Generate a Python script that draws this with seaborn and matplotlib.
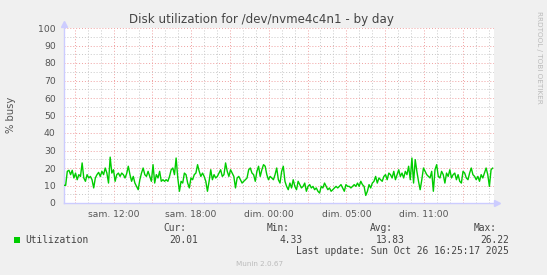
import numpy as np
import pandas as pd
import matplotlib
matplotlib.use("Agg")
import matplotlib.pyplot as plt
import seaborn as sns

# ---- data ----
utilization = [
    10.1, 10.1, 18.1, 18.7, 16.2, 18.7, 14.3, 17.1, 13.3, 16.2, 15.2, 22.9, 14.3, 12.4, 16.2, 14.3,
    15.2, 13.3, 8.6, 14.3, 16.2, 17.5, 15.2, 18.1, 16.2, 20.0, 17.1, 11.4, 26.22, 17.1, 19.0, 12.4,
    16.2, 17.1, 15.2, 17.1, 16.2, 14.3, 16.8, 21.0, 16.2, 12.4, 15.2, 11.4, 9.5, 7.6, 13.3, 17.1,
    20.0, 16.2, 15.2, 18.1, 15.2, 12.4, 21.9, 11.4, 16.2, 14.3, 18.1, 12.4, 13.3, 12.4, 13.3, 12.4,
    15.2, 19.0, 20.0, 16.2, 25.7, 14.3, 6.7, 12.4, 11.4, 17.1, 16.2, 11.4, 8.6, 14.3, 13.3, 16.2,
    17.1, 21.9, 18.1, 15.2, 17.1, 15.2, 12.4, 6.7, 12.4, 19.0, 13.3, 16.2, 14.3, 15.2, 17.1, 19.0,
    15.2, 16.2, 22.9, 18.1, 15.2, 19.0, 17.1, 15.2, 8.6, 14.3, 15.2, 13.3, 11.4, 12.4, 13.3, 14.3,
    19.0, 20.0, 17.1, 16.2, 12.4, 18.1, 21.0, 15.2, 19.0, 21.9, 21.0, 16.2, 13.3, 15.2, 14.3, 13.3,
    16.2, 20.0, 13.3, 11.4, 18.1, 21.0, 12.4, 9.5, 7.6, 11.4, 8.6, 13.3, 9.5, 7.6, 12.4, 10.5,
    8.6, 9.5, 11.4, 6.7, 9.5, 10.5, 8.6, 9.5, 7.6, 8.6, 6.7, 5.7, 9.5, 8.6, 11.4, 9.5,
    7.6, 8.6, 6.7, 7.6, 8.6, 9.5, 8.6, 9.5, 10.5, 8.6, 6.7, 10.5, 9.5, 9.5, 8.6, 9.5,
    10.5, 9.5, 11.4, 9.5, 12.4, 10.5, 9.5, 4.33, 6.7, 10.5, 8.6, 11.4, 12.4, 15.2, 11.4, 14.3,
    13.3, 12.4, 15.2, 16.2, 13.3, 17.1, 16.2, 14.3, 18.1, 13.3, 16.2, 19.0, 15.2, 17.1, 14.3, 18.1,
    16.2, 21.0, 13.3, 25.7, 11.4, 24.8, 18.1, 12.4, 7.6, 13.3, 20.0, 18.1, 16.2, 15.2, 14.3, 18.1,
    6.7, 19.0, 21.9, 15.2, 14.3, 18.1, 16.2, 11.4, 17.1, 15.2, 19.0, 14.3, 16.2, 17.1, 13.3, 16.2,
    12.4, 11.4, 18.1, 17.1, 14.3, 13.3, 17.1, 20.0, 16.2, 15.2, 13.3, 15.2, 12.4, 16.2, 14.3, 17.1,
    20.0, 16.2, 9.5, 19.0, 20.01,
]
start_hour = 8.17      # sam. 08:10 (hours since sam. 00:00)
end_hour = 41.42       # dim. 16:25 (CET) on a continuous hour axis
tick_hours = [12, 18, 24, 30, 36]
tick_labels = ["sam. 12:00", "sam. 18:00", "dim. 00:00", "dim. 05:00", "dim. 11:00"]
y_ticks = [0, 10, 20, 30, 40, 50, 60, 70, 80, 90, 100]
legend_name = "Utilization"
stats_labels = ["Cur:", "Min:", "Avg:", "Max:"]
stats_values = ["20.01", "4.33", "13.83", "26.22"]

hours = np.linspace(start_hour, end_hour - 0.1, len(utilization))
df = pd.DataFrame({"hour": hours, "busy": utilization})

# ---- figure ----
sns.set_style("white")
plt.rcParams["font.family"] = ["DejaVu Sans"]
W, H = 547, 275
fig = plt.figure(figsize=(W / 100, H / 100), dpi=100, facecolor="#f0f0f0")
ax = fig.add_axes([64 / W, 1 - 203 / H, (494 - 64) / W, (203 - 28) / H])
ax.set_facecolor("white")

sns.lineplot(data=df, x="hour", y="busy", ax=ax, color="#00cc00", linewidth=1.0, zorder=5)

ax.set_xlim(start_hour, end_hour)
ax.set_ylim(0, 100)

# grid
ax.set_xticks(np.arange(9, 42, 3), minor=False)
ax.set_xticks(np.arange(9, 42, 1), minor=True)
ax.set_yticks(y_ticks)
ax.set_yticks(np.arange(5, 100, 10), minor=True)
ax.grid(which="minor", color="#c8c8c8", linestyle=(0, (1, 2)), linewidth=0.7)
ax.grid(which="major", color="#f0a0a0", linestyle=(0, (1, 2)), linewidth=0.7)
ax.set_axisbelow(True)

ax.set_yticklabels([str(v) for v in y_ticks], color="#555555", fontsize=6.7)
ax.tick_params(axis="y", which="both", length=2, color="#aaaaaa", pad=4)
ax.tick_params(axis="x", which="major", length=2, color="#f0a0a0", pad=2)
ax.tick_params(axis="x", which="minor", length=0)

# x tick labels at 6-hour positions (separate from grid)
ax.set_xticklabels([""] * len(ax.get_xticks()))
for h, lab in zip(tick_hours, tick_labels):
    ax.text(h, -3.8, lab, ha="center", va="top", fontsize=6.6, color="#555555",
            transform=ax.transData, clip_on=False)

for s in ["top", "right"]:
    ax.spines[s].set_visible(False)
for s in ["left", "bottom"]:
    ax.spines[s].set_color("#ccccff")
    ax.spines[s].set_linewidth(1.0)
ax.set_xlabel("")
ax.set_ylabel("")

# axis arrows
ax.plot([0], [1.025], marker="^", markersize=4, color="#ccccff", transform=ax.transAxes, clip_on=False)
ax.plot([1.008], [0], marker=">", markersize=4, color="#ccccff", transform=ax.transAxes, clip_on=False)

# texts
fig.text(261 / W, 1 - 20 / H, "Disk utilization for /dev/nvme4c4n1 - by day", ha="center", va="center",
         fontsize=8.6, color="#444444")
fig.text(11 / W, 1 - 115 / H, "% busy", rotation=90, ha="center", va="center", fontsize=7.2, color="#555555")
fig.text(539 / W, 1 - 57 / H, "RRDTOOL / TOBI OETIKER", rotation=270, ha="center", va="center",
         fontsize=5.2, color="#bbbbbb")

mono = "DejaVu Sans Mono"
fs = 6.9
fig.patches.append(plt.Rectangle((14 / W, 1 - 243 / H), 6 / W, 6 / H, transform=fig.transFigure,
                                 facecolor="#00cc00", edgecolor="none"))
fig.text(25 / W, 1 - 240 / H, legend_name, family=mono, fontsize=fs, color="#444444", va="center")
label_right = [186, 290, 393, 497]
value_right = [198, 302, 405, 509]
for lab, x in zip(stats_labels, label_right):
    fig.text(x / W, 1 - 228 / H, lab, family=mono, fontsize=fs, color="#444444", va="center", ha="right")
for val, x in zip(stats_values, value_right):
    fig.text(x / W, 1 - 240 / H, val, family=mono, fontsize=fs, color="#444444", va="center", ha="right")
fig.text(509 / W, 1 - 251 / H, "Last update: Sun Oct 26 16:25:17 2025", family=mono, fontsize=fs,
         color="#444444", va="center", ha="right")
fig.text(260 / W, 1 - 264 / H, "Munin 2.0.67", fontsize=5.2, color="#bbbbbb", ha="center", va="center")

fig.savefig("out.png", dpi=100, facecolor=fig.get_facecolor())
